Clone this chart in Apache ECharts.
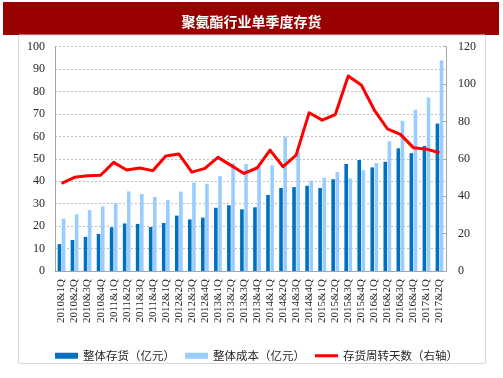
<!DOCTYPE html>
<html>
<head>
<meta charset="utf-8">
<script src="https://cdn.jsdelivr.net/npm/echarts@6/dist/echarts.min.js"></script>
<style>html,body{margin:0;padding:0;background:#fff;}#c{width:503px;height:378px;}</style>
</head>
<body>
<div id="c"></div>
<script>
const categories = ['2010&1Q','2010&2Q','2010&3Q','2010&4Q','2011&1Q','2011&2Q','2011&3Q','2011&4Q',
  '2012&1Q','2012&2Q','2012&3Q','2012&4Q','2013&1Q','2013&2Q','2013&3Q','2013&4Q',
  '2014&1Q','2014&2Q','2014&3Q','2014&4Q','2015&1Q','2015&2Q','2015&3Q','2015&4Q',
  '2016&1Q','2016&2Q','2016&3Q','2016&4Q','2017&1Q','2017&2Q'];
const inventory = [12.0, 13.8, 15.2, 16.5, 19.5, 21.2, 21.0, 19.6, 21.4, 24.7, 23.0, 23.8, 28.2, 29.3, 27.5,
  28.4, 33.9, 37.0, 37.4, 38.0, 37.0, 40.9, 47.7, 49.5, 46.2, 48.7, 54.7, 52.5, 55.7, 65.8];
const cost = [23.3, 25.3, 27.2, 28.8, 30.2, 35.5, 34.3, 33.0, 31.6, 35.4, 39.4, 38.9, 42.3, 48.0, 47.7,
  46.5, 47.1, 59.9, 52.9, 40.3, 41.6, 44.1, 41.3, 44.9, 48.1, 57.9, 67.0, 71.9, 77.4, 93.8];
const turnoverDays = [46.9, 50.1, 51.0, 51.2, 58.1, 54.0, 55.1, 53.7, 61.5, 62.6, 52.9, 54.9, 60.8, 56.5, 52.2,
  55.1, 64.7, 55.8, 62.0, 84.7, 80.7, 83.6, 104.3, 99.5, 86.1, 76.1, 73.1, 66.0, 65.2, 63.3];
const seriesNames = ['整体存货（亿元）', '整体成本（亿元）', '存货周转天数（右轴）'];
const titleText = '聚氨酯行业单季度存货';

const chart = echarts.init(document.getElementById('c'), null, {renderer: 'canvas'});
const serif = 'Liberation Serif, Times New Roman, serif';
const cjk = 'Noto Sans CJK SC';
const lineIcon = 'path://M0,0h23v0.01h-23z M0,1.5h23v3h-23z M0,5.99h23v0.01h-23z';
chart.setOption({
  animation: false,
  backgroundColor: '#fff',
  graphic: [
    {type: 'rect', shape: {x: 3, y: 2, width: 496, height: 33}, style: {fill: '#990000'}, z: 0},
    {type: 'rect', shape: {x: 18.5, y: 35, width: 467, height: 328.5}, style: {fill: 'none', stroke: '#d9d9d9', lineWidth: 1}, z: 0}
  ],
  title: {
    text: titleText, left: 'center', top: 10,
    textStyle: {color: '#fff', fontSize: 14, fontWeight: 'bold', fontFamily: cjk}
  },
  legend: {
    left: 50, top: 345, itemGap: 10, itemWidth: 23, itemHeight: 6,
    textStyle: {fontFamily: cjk, fontSize: 11.5, color: '#262626'},
    data: [
      {name: seriesNames[0], icon: 'rect'},
      {name: seriesNames[1], icon: 'rect'},
      {name: seriesNames[2], icon: lineIcon}
    ]
  },
  grid: {left: 55, right: 57, top: 46.7, bottom: 107, containLabel: false},
  xAxis: {
    type: 'category', data: categories, boundaryGap: true,
    axisLine: {lineStyle: {color: '#a6a6a6'}},
    axisTick: {show: false},
    axisLabel: {rotate: 90, interval: 0, margin: 8, fontFamily: serif, fontSize: 11, color: '#262626'}
  },
  yAxis: [
    {
      type: 'value', min: 0, max: 100, interval: 10,
      axisLine: {show: true, lineStyle: {color: '#a6a6a6'}},
      axisTick: {show: false},
      axisLabel: {margin: 10, fontFamily: serif, fontSize: 12, color: '#262626'},
      splitLine: {lineStyle: {color: '#bfbfbf', type: [2, 2], width: 1}}
    },
    {
      type: 'value', min: 0, max: 120, interval: 20, position: 'right',
      axisLine: {show: true, lineStyle: {color: '#a6a6a6'}},
      axisTick: {show: true, inside: true, length: 3, lineStyle: {color: '#a6a6a6'}},
      axisLabel: {margin: 12, fontFamily: serif, fontSize: 12, color: '#262626'},
      splitLine: {show: false}
    }
  ],
  series: [
    {name: seriesNames[0], type: 'bar', data: inventory, barWidth: 3.6, barGap: '15%', itemStyle: {color: '#0070C0'}},
    {name: seriesNames[1], type: 'bar', data: cost, barWidth: 3.6, itemStyle: {color: '#99CCFF'}},
    {name: seriesNames[2], type: 'line', yAxisIndex: 1, data: turnoverDays, symbol: 'none',
     lineStyle: {color: '#FF0000', width: 3, join: 'round'}, itemStyle: {color: '#FF0000'}, z: 5}
  ]
});
</script>
</body>
</html>
